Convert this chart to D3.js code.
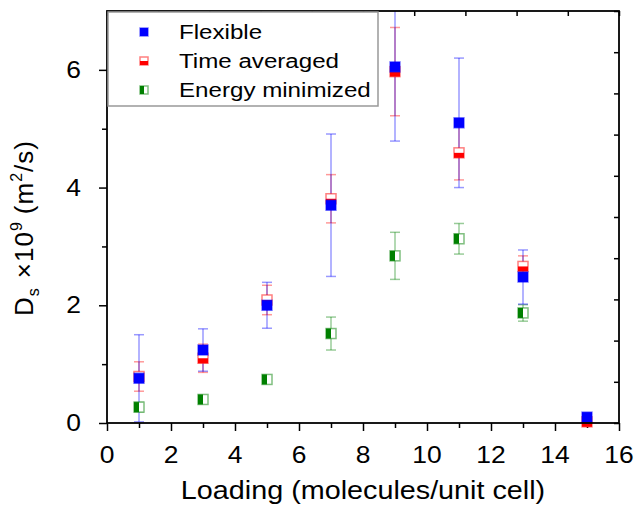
<!DOCTYPE html>
<html>
<head>
<meta charset="utf-8">
<script src="https://cdn.jsdelivr.net/npm/d3@7"></script>
<style>
  body { margin: 0; background: #fff; }
  svg { display: block; font-family: "Liberation Sans", Arial, sans-serif; }
</style>
</head>
<body>
<svg id="chart" width="636" height="505"></svg>
<script>
// loading (molecules / unit cell)
var loading = [1, 3, 5, 7, 9, 11, 13, 15];

// D_s x 10^9 (m^2/s) and error bars
var flexible    = [0.76, 1.24, 2.00, 3.70, 6.05, 5.10, 2.48, 0.10];
var flexibleErr = [0.74, 0.36, 0.39, 1.21, 1.26, 1.10, 0.46, 0];
var timeAvg     = [0.79, 1.10, 2.09, 3.81, 5.97, 4.59, 2.66, 0.02];
var timeAvgErr  = [0.25, 0.24, 0.25, 0.41, 0.75, 0.46, 0.18, 0];
var energyMin   = [0.27, 0.40, 0.74, 1.52, 2.84, 3.13, 1.87, null];
var energyErr   = [0.08, 0.05, 0.03, 0.28, 0.40, 0.26, 0.14, null];

var xTicks = [0, 2, 4, 6, 8, 10, 12, 14, 16];
var yTicks = [0, 2, 4, 6];

var svg = d3.select("#chart"),
    margin = {top: 11, right: 17, bottom: 82, left: 107},
    width = +svg.attr("width"),
    height = +svg.attr("height"),
    STRETCH = 1.15;

var x = d3.scaleLinear().domain([0, 16]).range([margin.left, width - margin.right]);
var y = d3.scaleLinear().domain([0, 7]).range([height - margin.bottom, margin.top]);

var SERIES = [
  {name: "Energy minimized", values: energyMin, err: energyErr, color: "#008000", fill: "left"},
  {name: "Time averaged", values: timeAvg, err: timeAvgErr, color: "#ff0000", fill: "bottom"},
  {name: "Flexible", values: flexible, err: flexibleErr, color: "#0000ff", fill: "full"}
];

function stretchText(parent, tx, ty, str, size, anchor) {
  return parent.append("text")
      .attr("transform", "translate(" + tx + "," + ty + ") scale(" + STRETCH + ",1)")
      .attr("text-anchor", anchor || "middle")
      .attr("font-size", size)
      .attr("fill", "#000")
      .text(str);
}

svg.append("clipPath").attr("id", "plotclip")
  .append("rect")
    .attr("x", x(0)).attr("y", y(7))
    .attr("width", x(16) - x(0)).attr("height", y(0) - y(7));

// axes (ticks only, frame drawn separately)
function ticksOnly(sel) { sel.select(".domain").remove(); sel.selectAll("text").remove(); sel.selectAll("line").attr("stroke-width", 1.5); }

svg.append("g").attr("transform", "translate(0," + y(0) + ")")
    .call(d3.axisBottom(x).tickValues(xTicks).tickSize(8)).call(ticksOnly);
svg.append("g").attr("transform", "translate(0," + y(0) + ")")
    .call(d3.axisBottom(x).tickValues(d3.range(1, 16, 2)).tickSize(5)).call(ticksOnly);
svg.append("g").attr("transform", "translate(0," + y(7) + ")")
    .call(d3.axisBottom(x).tickValues(d3.range(0, 11).map(function(i) { return i * 1.6; })).tickSize(5)).call(ticksOnly);

svg.append("g").attr("transform", "translate(" + x(0) + ",0)")
    .call(d3.axisLeft(y).tickValues(yTicks).tickSize(8)).call(ticksOnly);
svg.append("g").attr("transform", "translate(" + x(0) + ",0)")
    .call(d3.axisLeft(y).tickValues([1, 3, 5]).tickSize(5)).call(ticksOnly);
svg.append("g").attr("transform", "translate(" + x(16) + ",0)")
    .call(d3.axisLeft(y).tickValues(d3.range(0, 11).map(function(i) { return i * 0.7; })).tickSize(5)).call(ticksOnly);

xTicks.forEach(function(t) { stretchText(svg, x(t), 463, t, 23, "middle"); });
yTicks.forEach(function(t) { stretchText(svg, 81, y(t) + 8, t, 23, "end"); });

// error bars
var bars = svg.append("g").attr("clip-path", "url(#plotclip)");
SERIES.forEach(function(s) {
  loading.forEach(function(l, i) {
    var v = s.values[i], e = s.err[i];
    if (v === null || !e) return;
    var g = bars.append("g")
        .attr("stroke", s.color).attr("stroke-opacity", 0.4).attr("stroke-width", 1.5);
    g.append("line").attr("x1", x(l)).attr("x2", x(l)).attr("y1", y(v - e)).attr("y2", y(v + e));
    [v - e, v + e].forEach(function(c) {
      g.append("line").attr("x1", x(l) - 5).attr("x2", x(l) + 5).attr("y1", y(c)).attr("y2", y(c));
    });
  });
});

function marker(parent, cx, cy, s, size) {
  var h = size / 2;
  parent.append("rect")
      .attr("x", cx - h).attr("y", cy - h).attr("width", size).attr("height", size)
      .attr("fill", s.fill === "full" ? s.color : "#fff")
      .attr("stroke", s.color).attr("stroke-opacity", 0.5).attr("stroke-width", 1.5);
  if (s.fill === "bottom") {
    parent.append("rect").attr("x", cx - h).attr("y", cy).attr("width", size).attr("height", h)
        .attr("fill", s.color);
  } else if (s.fill === "left") {
    parent.append("rect").attr("x", cx - h).attr("y", cy - h).attr("width", h).attr("height", size)
        .attr("fill", s.color);
  }
}

var marks = svg.append("g");
SERIES.forEach(function(s) {
  loading.forEach(function(l, i) {
    if (s.values[i] === null) return;
    marker(marks, x(l), y(s.values[i]), s, 10);
  });
});

// frame
svg.append("rect")
    .attr("x", x(0)).attr("y", y(7))
    .attr("width", x(16) - x(0)).attr("height", y(0) - y(7))
    .attr("fill", "none").attr("stroke", "#000").attr("stroke-width", 1.8);

// legend
var legend = svg.append("g");
legend.append("rect")
    .attr("x", 108).attr("y", 12).attr("width", 270).attr("height", 94)
    .attr("fill", "#fff").attr("stroke", "#999").attr("stroke-width", 1.5);
var order = [SERIES[2], SERIES[1], SERIES[0]];
order.forEach(function(s, i) {
  var cy = 32 + i * 29;
  marker(legend, 144, cy, s, 8);
  stretchText(legend, 179, cy + 7, s.name, 21, "start");
});

// axis titles
stretchText(svg, x(8), 499, "Loading (molecules/unit cell)", 25, "middle");

var yt = svg.append("text")
    .attr("transform", "translate(33,228) rotate(-90)")
    .attr("text-anchor", "middle")
    .attr("font-size", 26)
    .attr("letter-spacing", 1)
    .attr("fill", "#000");
yt.append("tspan").text("D");
yt.append("tspan").attr("font-size", 16).attr("dy", 6).text("s");
yt.append("tspan").attr("dy", -6).attr("dx", 9).text("\u00d710");
yt.append("tspan").attr("font-size", 16).attr("dy", -11).text("9");
yt.append("tspan").attr("dy", 11).attr("dx", 7).text("(m");
yt.append("tspan").attr("font-size", 16).attr("dy", -11).text("2");
yt.append("tspan").attr("dy", 11).text("/s)");
</script>
</body>
</html>
